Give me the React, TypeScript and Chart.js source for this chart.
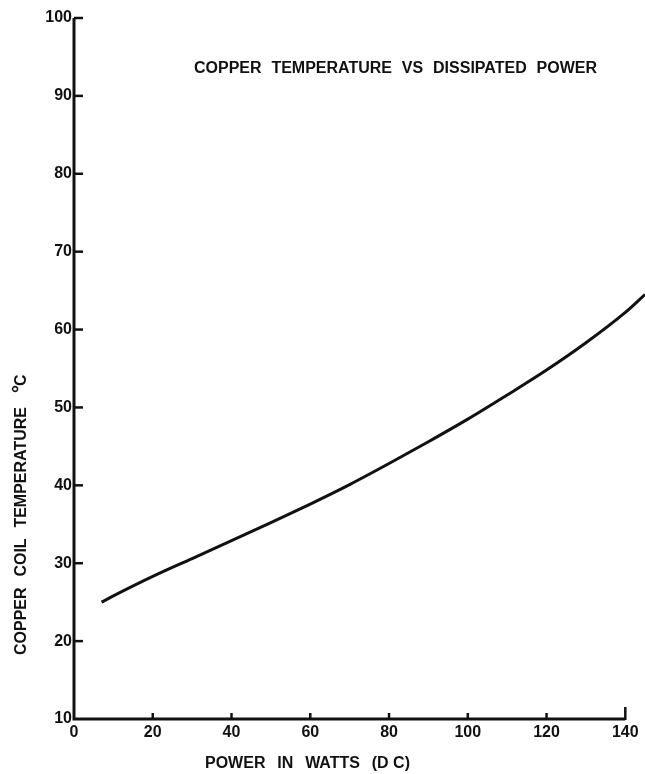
import React, { useEffect, useRef } from "react";
import { Chart, registerables } from "chart.js";

Chart.register(...registerables);

const powerWatts = [7, 10, 20, 30, 40, 50, 60, 70, 80, 90, 100, 110, 120, 130, 140, 145];
const coilTempC = [25, 25.8, 28.3, 30.6, 32.9, 35.2, 37.6, 40.1, 42.8, 45.6, 48.5, 51.6, 54.8, 58.3, 62.2, 64.5];
const xTickValues = [0, 20, 40, 60, 80, 100, 120, 140];
const yTickValues = [10, 20, 30, 40, 50, 60, 70, 80, 90, 100];
const chartTitleWords = ["COPPER", "TEMPERATURE", "VS", "DISSIPATED", "POWER"];
const xTitleWords = ["POWER", "IN", "WATTS", "(D C)"];
const yTitleWords = ["COPPER", "COIL", "TEMPERATURE"];
const yUnit = "C";
const degreeSign = "°";

const FONT_FAMILY = '"Liberation Sans", Arial, sans-serif';
const INK = "#111111";

function spread(ctx: CanvasRenderingContext2D, words: string[], x0: number, x1: number, y: number) {
  const widths = words.map((w) => ctx.measureText(w).width);
  const total = widths.reduce((a, b) => a + b, 0);
  const gap = words.length > 1 ? (x1 - x0 - total) / (words.length - 1) : 0;
  let x = x0;
  words.forEach((w, i) => {
    ctx.fillText(w, x, y);
    x += widths[i] + gap;
  });
}

export default function App() {
  const ref = useRef<HTMLCanvasElement>(null);

  useEffect(() => {
    if (!ref.current) return;

    const annot = {
      id: "annot",
      afterDraw(chart: any) {
        const ctx: CanvasRenderingContext2D = chart.ctx;
        const xs = chart.scales.x;
        const ys = chart.scales.y;
        const x0 = xs.getPixelForValue(0);
        const yb = ys.getPixelForValue(10);
        const yt = ys.getPixelForValue(100);
        const line = (ax: number, ay: number, bx: number, by: number) => {
          ctx.beginPath();
          ctx.moveTo(ax, ay);
          ctx.lineTo(bx, by);
          ctx.stroke();
        };
        ctx.save();
        ctx.strokeStyle = INK;
        ctx.fillStyle = INK;
        ctx.lineCap = "butt";
        ctx.lineWidth = 3;
        ctx.beginPath();
        ctx.moveTo(x0, yt);
        ctx.lineTo(x0, yb);
        ctx.lineTo(xs.getPixelForValue(140), yb);
        ctx.stroke();
        ctx.lineWidth = 2.5;
        yTickValues.forEach((v) => {
          if (v === 10) return;
          const y = ys.getPixelForValue(v);
          line(x0, y, x0 + 9, y);
        });
        xTickValues.forEach((v) => {
          if (v === 0) return;
          const x = xs.getPixelForValue(v);
          line(x, yb + 1, x, yb - (v === 140 ? 12 : 6));
        });

        ctx.textBaseline = "middle";
        ctx.textAlign = "left";
        ctx.font = `bold 16px ${FONT_FAMILY}`;
        spread(ctx, chartTitleWords, 194, 597, 69);
        ctx.font = `bold 16px ${FONT_FAMILY}`;
        spread(ctx, xTitleWords, 205, 410, 764);

        ctx.save();
        ctx.translate(22, 655);
        ctx.rotate(-Math.PI / 2);
        ctx.font = `bold 16px ${FONT_FAMILY}`;
        spread(ctx, yTitleWords, 0, 248, 0);
        ctx.fillText(yUnit, 269, 0);
        ctx.font = `bold 20px ${FONT_FAMILY}`;
        ctx.fillText(degreeSign, 262, -2);
        ctx.restore();
        ctx.restore();
      },
    };

    const chart = new Chart(ref.current, {
      type: "line",
      data: {
        datasets: [
          {
            data: powerWatts.map((x, i) => ({ x, y: coilTempC[i] })),
            borderColor: INK,
            borderWidth: 3,
            pointRadius: 0,
            fill: false,
            cubicInterpolationMode: "monotone",
          },
        ],
      },
      options: {
        animation: false,
        responsive: false,
        devicePixelRatio: 1,
        layout: { padding: { top: 18, left: 0, right: 0, bottom: 0 } },
        plugins: { legend: { display: false }, tooltip: { enabled: false }, title: { display: false } },
        scales: {
          x: {
            type: "linear",
            min: 0,
            max: 145,
            afterBuildTicks: (s: any) => {
              s.ticks = xTickValues.map((value) => ({ value }));
            },
            afterFit: (s: any) => {
              s.height = 55;
            },
            border: { display: false },
            grid: { display: false, drawTicks: false },
            ticks: {
              autoSkip: false,
              maxRotation: 0,
              padding: 4,
              color: INK,
              font: { family: FONT_FAMILY, size: 16, weight: "bold" },
            },
          },
          y: {
            type: "linear",
            min: 10,
            max: 100,
            afterBuildTicks: (s: any) => {
              s.ticks = yTickValues.map((value) => ({ value }));
            },
            afterFit: (s: any) => {
              s.width = 74;
            },
            border: { display: false },
            grid: { display: false, drawTicks: false },
            ticks: {
              autoSkip: false,
              padding: 2,
              color: INK,
              font: { family: FONT_FAMILY, size: 16, weight: "bold" },
            },
          },
        },
      },
      plugins: [annot],
    } as any);

    return () => chart.destroy();
  }, []);

  return (
    <div style={{ position: "absolute", left: 0, top: 0, width: 645, height: 774, background: "#fff" }}>
      <canvas ref={ref} width={645} height={774} style={{ display: "block" }} />
    </div>
  );
}
